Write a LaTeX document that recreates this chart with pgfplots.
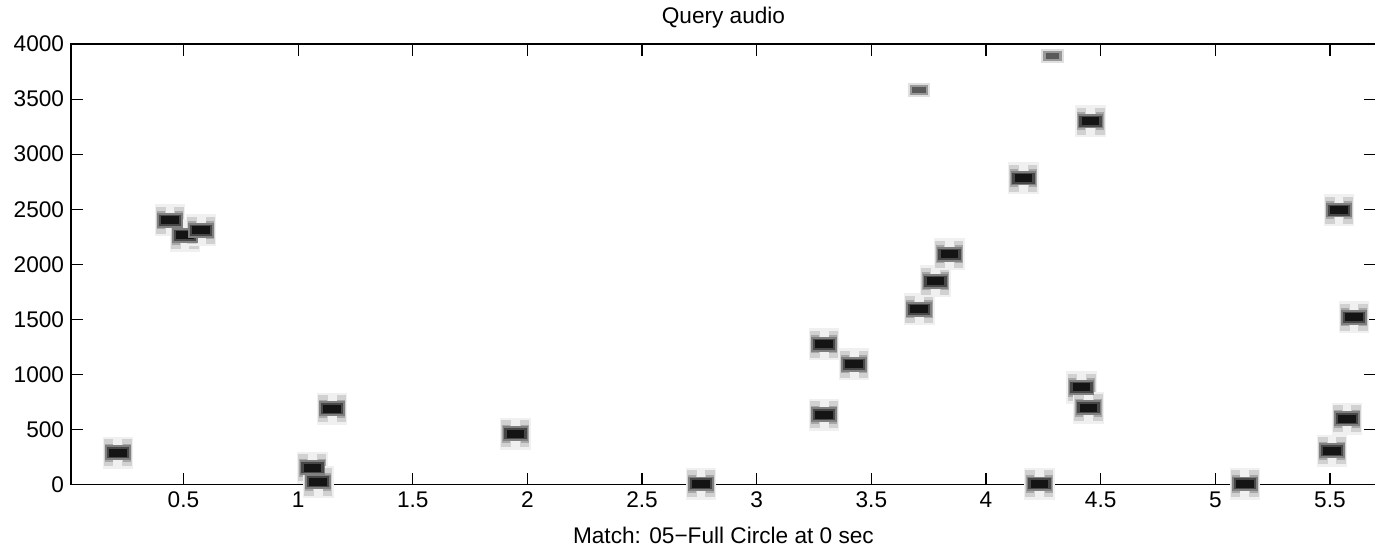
\documentclass[border=0pt]{standalone}
\usepackage{pgfplots}
\pgfplotsset{compat=1.18}
\usepackage{fontspec}
\setmainfont{Liberation Sans}

\pgfdeclareplotmark{blobhalo}{%
  \pgfsetfillcolor{black!6}%
  \pgfpathrectanglecorners{\pgfpoint{-7.6pt}{-8pt}}{\pgfpoint{7.6pt}{8pt}}\pgfusepath{fill}%
  \pgfsetfillcolor{black!18}%
  \pgfpathrectanglecorners{\pgfpoint{-7pt}{-6.8pt}}{\pgfpoint{-2.2pt}{6.8pt}}\pgfusepath{fill}%
  \pgfpathrectanglecorners{\pgfpoint{2.2pt}{-6.8pt}}{\pgfpoint{7pt}{6.8pt}}\pgfusepath{fill}%
  \pgfsetfillcolor{black!34}%
  \pgfpathrectanglecorners{\pgfpoint{-6.6pt}{-4.5pt}}{\pgfpoint{-2.6pt}{4.5pt}}\pgfusepath{fill}%
  \pgfpathrectanglecorners{\pgfpoint{2.6pt}{-4.5pt}}{\pgfpoint{6.6pt}{4.5pt}}\pgfusepath{fill}%
}
\pgfdeclareplotmark{blobcore}{%
  \pgfsetfillcolor{black!50}%
  \pgfpathrectanglecorners{\pgfpoint{-6.4pt}{-3.6pt}}{\pgfpoint{6.4pt}{3.6pt}}\pgfusepath{fill}%
  \pgfsetfillcolor{black!72}%
  \pgfpathrectanglecorners{\pgfpoint{-5.6pt}{-2.8pt}}{\pgfpoint{5.6pt}{2.8pt}}\pgfusepath{fill}%
  \pgfsetfillcolor{black!92}%
  \pgfpathrectanglecorners{\pgfpoint{-4.4pt}{-2pt}}{\pgfpoint{4.4pt}{2pt}}\pgfusepath{fill}%
}
\pgfdeclareplotmark{blobfaint}{%
  \pgfsetfillcolor{black!12}%
  \pgfpathrectanglecorners{\pgfpoint{-5.6pt}{-3.6pt}}{\pgfpoint{5.6pt}{3.6pt}}\pgfusepath{fill}%
  \pgfsetfillcolor{black!40}%
  \pgfpathrectanglecorners{\pgfpoint{-4.6pt}{-2.6pt}}{\pgfpoint{4.6pt}{2.6pt}}\pgfusepath{fill}%
  \pgfsetfillcolor{black!65}%
  \pgfpathrectanglecorners{\pgfpoint{-3.4pt}{-1.6pt}}{\pgfpoint{3.4pt}{1.6pt}}\pgfusepath{fill}%
}

\pgfplotstableread{
x y
0.214 291
0.441 2400
0.507 2262
0.577 2309
1.062 155
1.088 25
1.149 691
1.948 464
2.757 8
3.294 1273
3.294 636
3.425 1091
3.709 1591
3.779 1845
3.840 2091
4.163 2782
4.233 8
4.417 882
4.447 700
4.456 3300
5.129 8
5.509 309
5.574 600
5.605 1518
5.539 2491
}\peaks

\pgfplotstableread{
x y
3.709 3582
4.290 3891
}\faintpeaks

\begin{document}
\begin{tikzpicture}
\begin{axis}[
  scale only axis,
  width=651.5pt, height=220pt,
  xmin=0.01, xmax=5.70,
  ymin=0, ymax=4000,
  xtick={0.5,1,...,5.5},
  xticklabels={0.5,1,1.5,2,2.5,3,3.5,4,4.5,5,5.5},
  ytick={0,500,...,4000},
  tick align=inside,
  major tick length=6pt,
  tick style={black, line width=0.6pt},
  axis line style={line width=0.8pt},
  every tick label/.append style={font=\fontsize{11.3}{13}\selectfont},
  /pgf/number format/assume math mode=true,
  scaled y ticks=false,
  yticklabel style={/pgf/number format/1000 sep={}},
  title={Query audio},
  every axis title/.style={at={(0.5,1)}, anchor=center, yshift=13pt, font=\fontsize{11.3}{13}\selectfont},
  xlabel={Match: 05−Full Circle at 0 sec},
  every axis x label/.style={at={(0.5,0)}, anchor=center, yshift=-25.5pt, font=\fontsize{11.3}{13}\selectfont},
  clip=true,
]
\addplot[only marks, mark=blobhalo] table[x=x,y=y] {\peaks};
\addplot[only marks, mark=blobcore] table[x=x,y=y] {\peaks};
\addplot[only marks, mark=blobfaint] table[x=x,y=y] {\faintpeaks};
\end{axis}
\pgfresetboundingbox
\path[use as bounding box] (-35.5pt,-33.5pt) rectangle (651.1pt,242pt);
\end{tikzpicture}
\end{document}
